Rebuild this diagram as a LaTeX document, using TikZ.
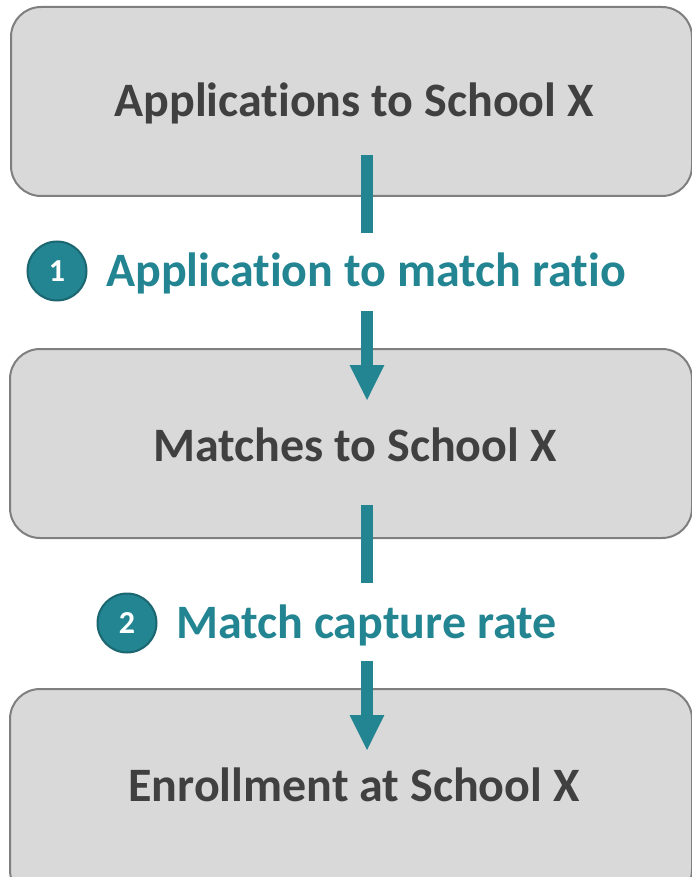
\documentclass[tikz,border=0pt]{standalone}
\usepackage{fontspec}
\setmainfont{Carlito}[Ligatures={NoCommon,NoRare,NoContextual}]
\usetikzlibrary{arrows.meta}
\definecolor{teal1}{HTML}{238592}
\definecolor{tealdark}{HTML}{1B6670}
\definecolor{boxfill}{HTML}{D9D9D9}
\definecolor{boxline}{HTML}{7F7F7F}
\definecolor{txt}{HTML}{404040}
\tikzset{
  stagebox/.style={draw=boxline, line width=2pt, fill=boxfill, rounded corners=30pt},
  stagetext/.style={text=txt, font=\fontsize{48}{56}\selectfont\bfseries},
  steplabel/.style={text=teal1, font=\fontsize{48}{56}\selectfont\bfseries, anchor=west, inner sep=0pt},
  stepnum/.style={circle, fill=teal1, draw=tealdark, line width=2pt, minimum size=59pt, inner sep=0pt, text=white, font=\fontsize{32}{36}\selectfont\bfseries},
  bar/.style={teal1, line width=12pt},
  flow/.style={teal1, line width=12pt, -{Triangle[length=36pt,width=32pt]}}
}
\begin{document}
\begin{tikzpicture}[x=1pt,y=-1pt]
\useasboundingbox (0,0) rectangle (692,877);
\clip (0,0) rectangle (692,877);
% boxes
\draw[stagebox] (11,7) rectangle (692,196);
\draw[stagebox] (10,349) rectangle (692,538);
\draw[stagebox] (10,689) rectangle (692,900);
\node[stagetext] (b1) at (354,103) {Applications to School X};
\node[stagetext] (b2) at (355,445) {Matches to School X};
\node[stagetext] (b3) at (354,785) {Enrollment at School X};
% labels
\node[stepnum] (n1) at (57,271) {1};
\node[steplabel] (l1) at (106,273) {Application to match ratio};
\node[stepnum] (n2) at (127,623) {2};
\node[steplabel] (l2) at (176,625) {Match capture rate};
% connectors
\coordinate (s1a) at (367,155);
\coordinate (s1b) at (367,233);
\coordinate (a1a) at (367,311);
\coordinate (a1b) at (367,401);
\coordinate (s2a) at (367,505);
\coordinate (s2b) at (367,583);
\coordinate (a2a) at (367,661);
\coordinate (a2b) at (367,751);
\draw[bar] (s1a) -- (s1b);
\draw[flow] (a1a) -- (a1b);
\draw[bar] (s2a) -- (s2b);
\draw[flow] (a2a) -- (a2b);
\end{tikzpicture}
\end{document}
